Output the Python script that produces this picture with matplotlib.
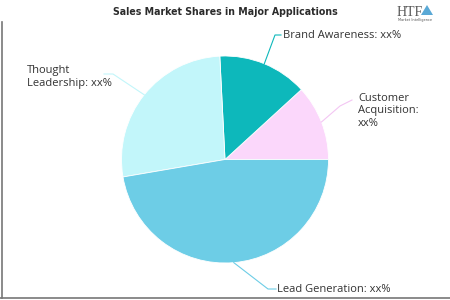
import matplotlib
matplotlib.use("Agg")
import matplotlib.pyplot as plt
import numpy as np
from matplotlib.patches import Polygon

categories = ["Customer Acquisition", "Brand Awareness", "Thought Leadership", "Lead Generation"]
shares = [11.8, 14.0, 26.9, 47.3]
label_texts = ["Customer\nAcquisition:\nxx%", "Brand Awareness: xx%", "Thought\nLeadership: xx%", "Lead Generation: xx%"]
colors = ["#FBD7FB", "#0DB8BB", "#C2F6FA", "#6DCDE6"]
title = "Sales Market Shares in Major Applications"

W, H = 450, 300
fig = plt.figure(figsize=(4.5, 3.0), dpi=100)
fig.patch.set_facecolor("white")

# pie axes: center (225,159.5), radius 103.5 px
cx, cy, r = 225, 159.5, 103.5
ax = fig.add_axes([(cx - r) / W, 1 - (cy + r) / H, 2 * r / W, 2 * r / H])
wedges, _ = ax.pie(shares, colors=colors, startangle=0, counterclock=True,
                   wedgeprops=dict(linewidth=0.6, edgecolor="white"))
ax.set_xlim(-1, 1)
ax.set_ylim(-1, 1)
ax.set_aspect("equal")
ax.axis("off")

# overlay axes in pixel coordinates for leader lines and labels
ov = fig.add_axes([0, 0, 1, 1])
ov.set_xlim(0, W)
ov.set_ylim(H, 0)
ov.axis("off")
ov.patch.set_alpha(0)

cum = np.cumsum([0] + shares)
mids = [(cum[i] + cum[i + 1]) / 2 / 100 * 360 for i in range(len(shares))]
edge_pts = [(cx + r * np.cos(np.radians(a)), cy - r * np.sin(np.radians(a))) for a in mids]

leader_cfg = [
    ((340, 106), (352, 100), (358, 111), "left", "center"),
    ((275, 35), (281, 35), (283, 35), "left", "center"),
    ((113, 74), (104, 74), (27, 77), "left", "center"),
    ((268, 289), (276, 289), (277, 289), "left", "center"),
]
line_colors = ["#F3C6F3", "#0DB8BB", "#C2F6FA", "#6DCDE6"]
for i, (elbow, end, tpos, ha, va) in enumerate(leader_cfg):
    sx, sy = edge_pts[i]
    ov.plot([sx, elbow[0], end[0]], [sy, elbow[1], end[1]], color=line_colors[i], lw=0.8)
    ov.text(tpos[0], tpos[1], label_texts[i], ha=ha, va=va, fontsize=8,
            color="#333333", family=["Open Sans", "DejaVu Sans"], linespacing=1.22)

# title
ov.text(225, 12, title, ha="center", va="center", fontsize=7.6, fontweight="heavy",
        fontstretch="condensed", color="#2b2b2b",
        family=["DejaVu Sans"])

# logo
ov.text(397, 12, "HTF", ha="left", va="center", fontsize=10, color="#555555",
        family=["Liberation Serif", "DejaVu Serif"])
ov.add_patch(Polygon([[421, 15], [427, 5], [433, 15]], closed=True,
                     facecolor="#5AA9D6", edgecolor="none"))
ov.text(398, 19.5, "Market Intelligence", ha="left", va="center", fontsize=2.5, color="#555555")

# frame lines (left and bottom)
ov.plot([1.5, 1.5], [22, 298], color="#777777", lw=1.2)
ov.plot([0, W], [298, 298], color="#777777", lw=1.2)

fig.savefig("out.png", dpi=100, facecolor="white")
